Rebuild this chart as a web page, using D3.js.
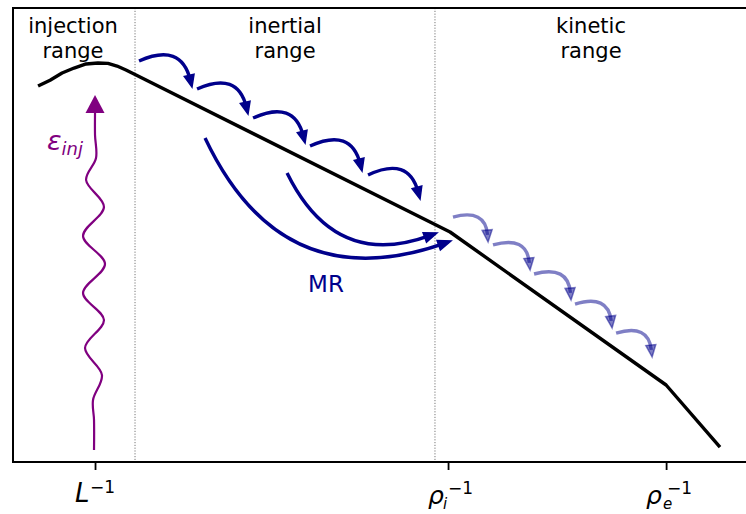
<!DOCTYPE html>
<html>
<head>
<meta charset="utf-8">
<script src="https://cdn.jsdelivr.net/npm/d3@7"></script>
<style>
  body { margin: 0; background: #fff; }
  text { font-family: "DejaVu Sans", sans-serif; }
</style>
</head>
<body>
<div id="chart"></div>
<script>
// x: log k (L^-1 = 0), y: log E (arbitrary units)
const spectrumX = [-0.484, -0.382, -0.280, -0.178, -0.076, 0.025, 0.110, 0.187, 0.263, 0.340, 3.017, 4.853, 5.311];
const spectrumY = [8.28, 8.41, 8.568, 8.678, 8.767, 8.789, 8.78, 8.722, 8.634, 8.535, 5.066, 1.696, 0.33];

const rangeEdges = [0.340, 2.889];
const tickValues = [0, 3, 4.853];
const tickLabels = ["L", "ρi", "ρe"];

const rangeNames = ["injection range", "inertial range", "kinetic range"];
const rangeNameX = [-0.187, 1.615, 4.215];

// local cascade in the inertial range: [x0, y0, x1, y1]
const inertialHops = [
  [0.374, 8.833, 0.824, 8.260],
  [0.867, 8.216, 1.300, 7.665],
  [1.343, 7.577, 1.785, 7.026],
  [1.827, 6.960, 2.269, 6.410],
  [2.320, 6.322, 2.762, 5.793]
];
// cascade in the kinetic range
const kineticHops = [
  [3.042, 5.396, 3.340, 4.846],
  [3.382, 4.780, 3.697, 4.229],
  [3.731, 4.141, 4.045, 3.568],
  [4.079, 3.480, 4.394, 2.952],
  [4.428, 2.841, 4.734, 2.313]
];
// non-local transfer by magnetic reconnection
const mrArrows = [
  [0.935, 7.137, 3.025, 4.868],
  [1.632, 6.366, 2.906, 5.044]
];

// injection wave
const waveX = [-0.0085, -0.0085, -0.017, 0.059, -0.085, 0.076, -0.102, 0.085, -0.102, 0.076, -0.076, 0.0085, 0, 0];
const waveY = [0.264, 0.925, 1.366, 1.916, 2.511, 3.128, 3.722, 4.361, 4.978, 5.617, 6.211, 6.696, 7.203, 7.687];
const waveTip = [0, 8.084];

const W = 746, H = 514;
const frame = { left: 13, top: 8, bottom: 462, right: 748 };
const darkBlue = "#00008b", purple = "#800080";

const svg = d3.select("#chart").append("svg")
  .attr("width", W).attr("height", H);

const x = d3.scaleLinear().domain([-0.697, 5.532]).range([frame.left, 746]);
const y = d3.scaleLinear().domain([0, 10]).range([frame.bottom, frame.top]);

// dotted range separators
svg.selectAll(".sep")
  .data(rangeEdges)
  .enter()
  .append("line")
  .attr("class", "sep")
  .attr("x1", (d) => x(d)).attr("x2", (d) => x(d))
  .attr("y1", frame.top).attr("y2", frame.bottom)
  .attr("stroke", "#777")
  .attr("stroke-width", 1)
  .attr("stroke-dasharray", "1.2,1.6");

// spectrum
const spectrum = spectrumX.map((v, i) => [v, spectrumY[i]]);
svg.append("path")
  .datum(spectrum)
  .attr("fill", "none")
  .attr("stroke", "black")
  .attr("stroke-width", 3.4)
  .attr("stroke-linejoin", "round")
  .attr("d", d3.line().x((d) => x(d[0])).y((d) => y(d[1])));

// curved arrow like matplotlib arc3
function drawArrow(g, d, rad, opts) {
  const x0 = x(d[0]), y0 = y(d[1]), x2 = x(d[2]), y2 = y(d[3]);
  const dx = x2 - x0, dy = y2 - y0;
  const cx = (x0 + x2) / 2 + rad * dy, cy = (y0 + y2) / 2 - rad * dx;
  let ux = x2 - cx, uy = y2 - cy;
  const n = Math.hypot(ux, uy);
  ux /= n; uy /= n;
  const bx = x2 - ux * opts.len, by = y2 - uy * opts.len;
  const ex = x2 - ux * opts.len * 0.6, ey = y2 - uy * opts.len * 0.6;
  g.append("path")
    .attr("d", `M${x0},${y0}Q${cx},${cy} ${ex},${ey}`)
    .attr("fill", "none")
    .attr("stroke", opts.color)
    .attr("stroke-opacity", opts.alpha)
    .attr("stroke-width", 3.4);
  const px = -uy * opts.half, py = ux * opts.half;
  g.append("path")
    .attr("d", `M${x2},${y2}L${bx + px},${by + py}L${bx - px},${by - py}Z`)
    .attr("fill", opts.color)
    .attr("fill-opacity", opts.alpha)
    .attr("stroke", opts.color)
    .attr("stroke-opacity", opts.alpha)
    .attr("stroke-width", 1.5)
    .attr("stroke-linejoin", "miter");
}

const arrows = svg.append("g");
inertialHops.forEach((d) => drawArrow(arrows, d, 0.6, { color: darkBlue, alpha: 1, len: 12, half: 5 }));
kineticHops.forEach((d) => drawArrow(arrows, d, 0.6, { color: darkBlue, alpha: 0.5, len: 12, half: 5 }));
mrArrows.forEach((d) => drawArrow(arrows, d, -0.45, { color: darkBlue, alpha: 1, len: 13, half: 5 }));

svg.append("text")
  .attr("x", x(1.963)).attr("y", y(3.744))
  .attr("text-anchor", "middle")
  .attr("font-size", 23)
  .attr("fill", darkBlue)
  .text("MR");

// injection wave
const wave = waveX.map((v, i) => [v, waveY[i]]);
svg.append("path")
  .datum(wave)
  .attr("fill", "none")
  .attr("stroke", purple)
  .attr("stroke-width", 2.2)
  .attr("d", d3.line().curve(d3.curveCatmullRom.alpha(0.5)).x((d) => x(d[0])).y((d) => y(d[1])));
const tx = x(waveTip[0]), ty = y(waveTip[1]);
svg.append("path")
  .attr("d", `M${tx},${ty}L${tx + 9.5},${ty + 18}L${tx - 9.5},${ty + 18}Z`)
  .attr("fill", purple);

const eps = svg.append("text")
  .attr("x", x(-0.408)).attr("y", y(6.872))
  .attr("fill", purple)
  .attr("font-style", "italic")
  .attr("font-size", 27);
eps.append("tspan").text("ε");
eps.append("tspan").attr("font-size", 18).attr("dy", 5).text("inj");

// range names
rangeNames.forEach((name, i) => {
  const t = svg.append("text")
    .attr("text-anchor", "middle")
    .attr("font-size", 21)
    .attr("fill", "black");
  name.split(" ").forEach((w, j) => {
    t.append("tspan").attr("x", x(rangeNameX[i])).attr("y", j === 0 ? 33 : 58).text(w);
  });
});

// frame and ticks
svg.append("rect")
  .attr("x", frame.left).attr("y", frame.top)
  .attr("width", frame.right - frame.left)
  .attr("height", frame.bottom - frame.top)
  .attr("fill", "none")
  .attr("stroke", "black")
  .attr("stroke-width", 2);

const axis = svg.append("g")
  .attr("transform", `translate(0,${frame.bottom})`)
  .call(d3.axisBottom(x).tickValues(tickValues).tickSize(8).tickFormat(""));
axis.select(".domain").remove();
axis.selectAll(".tick line").attr("stroke-width", 1.8);

const labels = svg.selectAll(".klabel")
  .data(tickValues)
  .enter()
  .append("g")
  .attr("class", "klabel")
  .attr("transform", (d) => `translate(${x(d)},0)`);

labels.each(function (d, i) {
  const g = d3.select(this);
  const lab = tickLabels[i];
  if (lab === "L") {
    g.append("text").attr("x", -20).attr("y", 502).attr("font-size", 26).attr("font-style", "italic").text("L");
    g.append("text").attr("x", -5).attr("y", 493).attr("font-size", 17).text("−1");
  } else {
    g.append("text").attr("x", -20).attr("y", 504).attr("font-size", 25).attr("font-style", "italic").text("ρ");
    g.append("text").attr("x", lab[1] === "i" ? -5 : -3).attr("y", 509).attr("font-size", 15).attr("font-style", "italic").text(lab[1]);
    g.append("text").attr("x", lab[1] === "i" ? 0 : 1).attr("y", 494).attr("font-size", 17).text("−1");
  }
});
</script>
</body>
</html>
